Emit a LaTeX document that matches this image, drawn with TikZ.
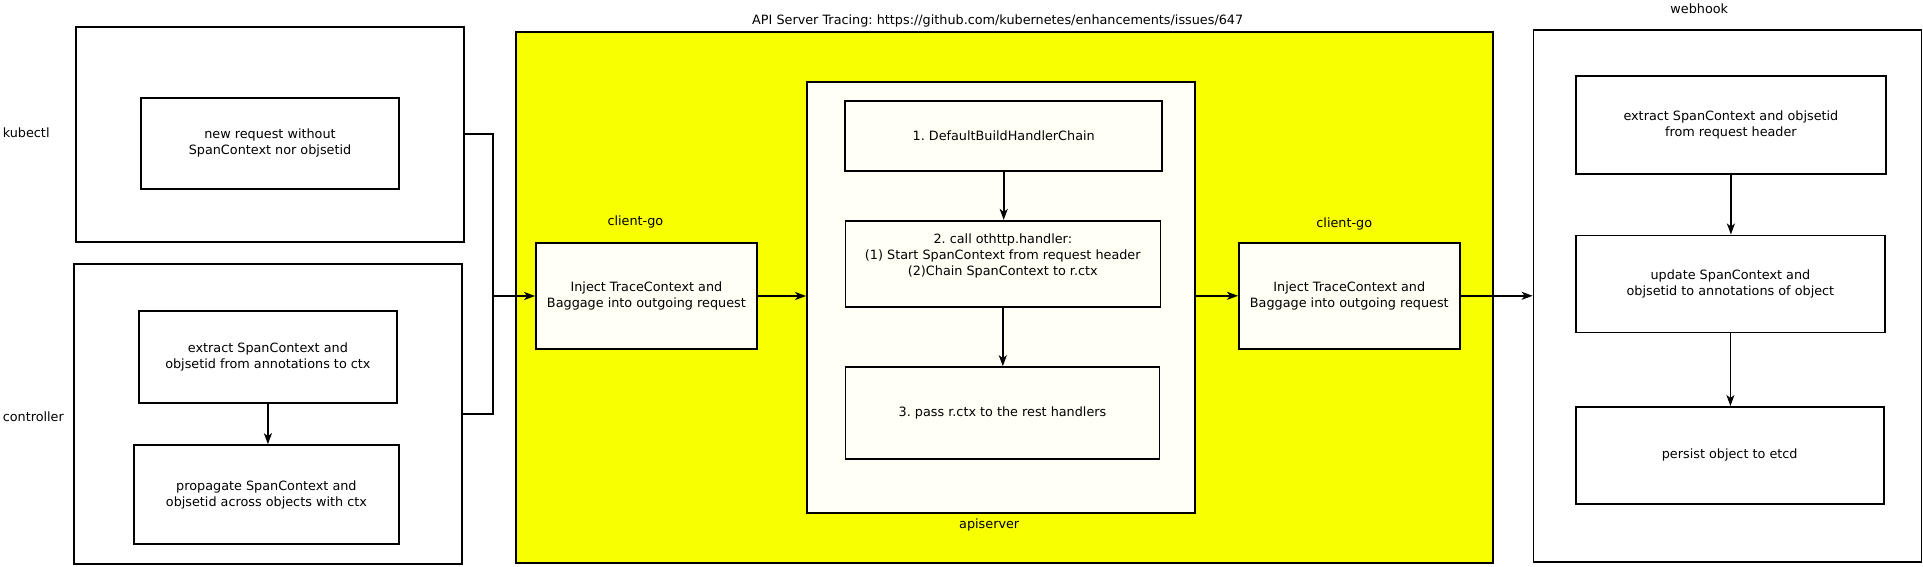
\documentclass[tikz,border=0pt]{standalone}
\usepackage{fontspec}
\setmainfont{DejaVu Sans}
\usetikzlibrary{arrows.meta}
\definecolor{apiyellow}{RGB}{248,255,0}
\definecolor{offwhite}{RGB}{255,255,246}
\frenchspacing
\tikzset{
  box/.style={draw, line width=1.6pt, rectangle, align=center, inner sep=0pt},
  inbox/.style={box, fill=offwhite},
  lbl/.style={inner sep=0pt}
}
\begin{document}
\begin{tikzpicture}[x=1pt, y=-1pt, >={Stealth[length=11pt,width=8pt,inset=3pt]},
  line width=1.6pt, font=\fontsize{12.8}{16}\selectfont]

\useasboundingbox (0,0) rectangle (1923,566);

% left side
\node[box, minimum width=388pt, minimum height=215pt] (kout) at(269.9,134.2){};
\node[box, minimum width=258pt, minimum height=91pt] (kin) at(270,143.2){new request without\\SpanContext nor objsetid};
\node[lbl, anchor=west] (klbl) at(2,133){kubectl};

\node[box, minimum width=388pt, minimum height=300pt] (ctrl) at(267.9,414.2){};
\node[box, minimum width=258pt, minimum height=92pt] (extr) at(267.9,357){extract SpanContext and\\objsetid from annotations to ctx};
\node[box, minimum width=265pt, minimum height=99pt] (prop) at(266.4,494.5){propagate SpanContext and\\objsetid across objects with ctx};
\node[lbl, anchor=west] (clbl) at(2,416.5){controller};

% apiserver tracing
\node[box, fill=apiyellow, minimum width=977pt, minimum height=531pt] (trace) at(1004.4,297.4){};
\node[lbl] (tlbl) at(997.7,20.9){API Server Tracing: https://github.com/kubernetes/enhancements/issues/647};

\node[inbox, minimum width=221pt, minimum height=106pt] (cgA) at(646.4,296){Inject TraceContext and\\Baggage into outgoing request};
\node[lbl] (cgAlbl) at(635.4,221.7){client-go};

\node[inbox, minimum width=388pt, minimum height=431pt] (api) at(1000.9,297.4){};
\node[lbl] (apilbl) at(989.2,525){apiserver};
\node[inbox, minimum width=317pt, minimum height=70pt] (chain) at(1003.7,135.9){1. DefaultBuildHandlerChain};
\node[inbox, minimum width=315pt, minimum height=86pt] (otel) at(1002.8,263.7){2. call othttp.handler:\\(1) Start SpanContext from request header\\(2)Chain SpanContext to r.ctx\\[2pt]\mbox{}};
\node[inbox, minimum width=314pt, minimum height=92pt] (rest) at(1002.5,413){3. pass r.ctx to the rest handlers};

\node[inbox, minimum width=221pt, minimum height=106pt] (cgB) at(1349.3,295.8){Inject TraceContext and\\Baggage into outgoing request};
\node[lbl] (cgBlbl) at(1344.3,223.8){client-go};

% webhook
\node[box, minimum width=388pt, minimum height=532pt] (wh) at(1727.4,296){};
\node[lbl] (whlbl) at(1699.3,8.7){webhook};
\node[box, minimum width=310pt, minimum height=98pt] (whA) at(1730.9,124.9){extract SpanContext and objsetid\\from request header};
\node[box, minimum width=309pt, minimum height=97pt] (whB) at(1730.4,283.8){update SpanContext and\\objsetid to annotations of object};
\node[box, minimum width=308pt, minimum height=97pt] (whC) at(1729.7,455.3){persist object to etcd};

% connectors
\coordinate (join) at(493,296);
\draw (kout.east) -| (join);
\draw (ctrl.east) -| (join);
\draw[->] (join) -- (cgA.west);
\draw[->] (extr.south) -- (extr.south |- prop.north);

\draw[->] (cgA.east) -- (cgA.east -| api.west);
\draw[->] (chain.south) -- (chain.south |- otel.north);
\draw[->] (otel.south) -- (otel.south |- rest.north);
\draw[->] (api.east |- cgB.west) -- (cgB.west);
\draw[->] (cgB.east) -- (cgB.east -| wh.west);

\draw[->] (whA.south) -- (whA.south |- whB.north);
\draw[->] (whB.south) -- (whB.south |- whC.north);

\end{tikzpicture}
\end{document}
